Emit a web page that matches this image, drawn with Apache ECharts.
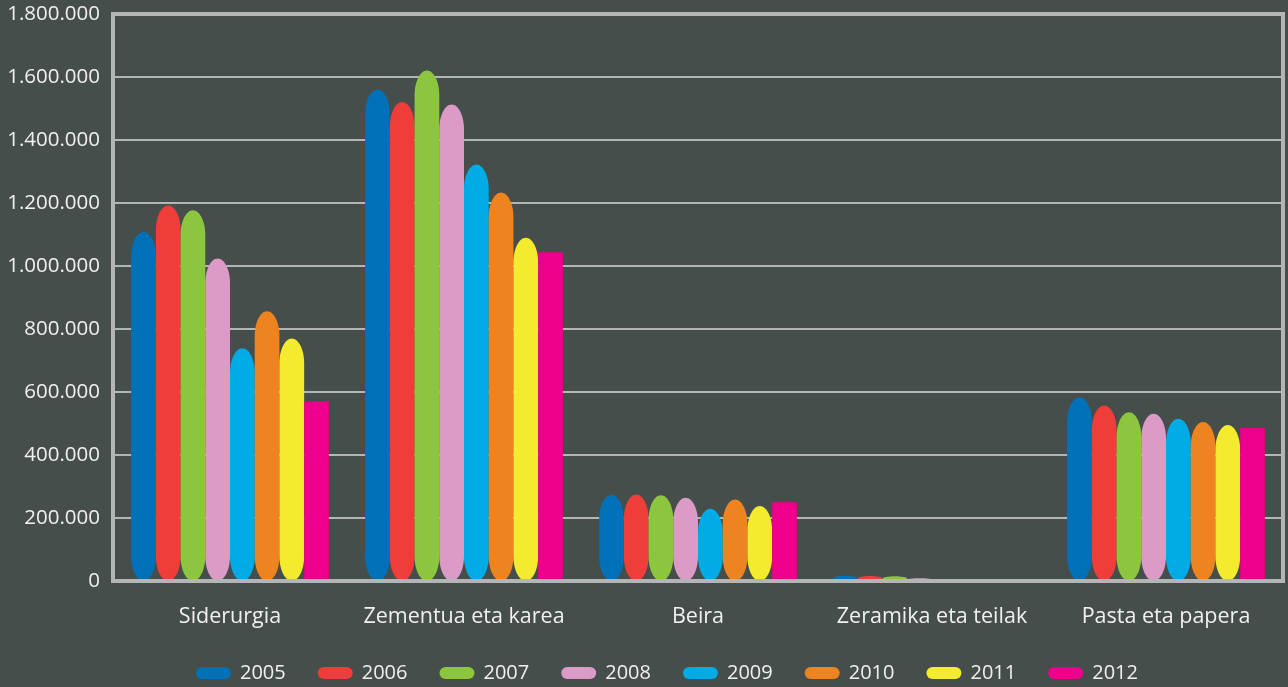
<!DOCTYPE html>
<html>
<head>
<meta charset="utf-8">
<script src="https://cdn.jsdelivr.net/npm/echarts@6/dist/echarts.min.js"></script>
<style>
html,body{margin:0;padding:0;background:#464e4b;}
#chart{width:1288px;height:687px;}
</style>
</head>
<body>
<div id="chart"></div>
<script>
const categories = ['Siderurgia', 'Zementua eta karea', 'Beira', 'Zeramika eta teilak', 'Pasta eta papera'];
const years = ['2005', '2006', '2007', '2008', '2009', '2010', '2011', '2012'];
const v2005 = [1108000, 1560000, 274000, 17000, 583000];
const v2006 = [1192000, 1521000, 275000, 16000, 557000];
const v2007 = [1177000, 1621000, 272000, 15000, 536000];
const v2008 = [1024000, 1513000, 264000, 9000, 531000];
const v2009 = [739000, 1322000, 229000, 5000, 515000];
const v2010 = [856000, 1233000, 259000, 5000, 505000];
const v2011 = [770000, 1090000, 238000, 3000, 495000];
const v2012 = [570000, 1044000, 250000, 3000, 486000];
const yTicks = [0, 200000, 400000, 600000, 800000, 1000000, 1200000, 1400000, 1600000, 1800000];

const seriesValues = [v2005, v2006, v2007, v2008, v2009, v2010, v2011, v2012];
const colors = ['#0071b9', '#ef3e39', '#8cc63e', '#db9bc6', '#00abe6', '#ee841f', '#f4eb2e', '#ec008c'];

const FONT = '"Open Sans", "Noto Sans", sans-serif';
const GROUP_RATIO = 0.845;
const K = 0.5523;

function fmt(v) {
  return String(v).replace(/\B(?=(\d{3})+(?!\d))/g, '.');
}

function makeRender(sIdx, rounded) {
  return function (params, api) {
    const cat = api.value(0);
    const val = api.value(1);
    const top = api.coord([cat, val]);
    const base = api.coord([cat, 0]);
    const band = api.size([1, 0])[0];
    const groupW = band * GROUP_RATIO;
    const w = groupW / years.length;
    const x0 = top[0] - groupW / 2 + sIdx * w;
    const x1 = x0 + w;
    const yt = top[1];
    const yb = base[1];
    const h = yb - yt;
    const color = api.visual('color');
    if (!rounded) {
      return {
        type: 'rect',
        shape: { x: x0, y: yt, width: w, height: h },
        style: { fill: color }
      };
    }
    const rx = w / 2;
    const c = Math.min(w * 1.0, h / 2);
    const cx = x0 + rx;
    const d = [
      'M', x0, yt + c,
      'C', x0, yt + c - K * c, cx - K * rx, yt, cx, yt,
      'C', cx + K * rx, yt, x1, yt + c - K * c, x1, yt + c,
      'L', x1, yb - c,
      'C', x1, yb - c + K * c, cx + K * rx, yb, cx, yb,
      'C', cx - K * rx, yb, x0, yb - c + K * c, x0, yb - c,
      'Z'
    ].join(' ');
    return {
      type: 'path',
      shape: { pathData: d },
      style: { fill: color }
    };
  };
}

const series = years.map((y, i) => ({
  name: y,
  type: 'custom',
  renderItem: makeRender(i, i !== years.length - 1),
  itemStyle: { color: colors[i] },
  encode: { x: 0, y: 1 },
  data: seriesValues[i].map((v, j) => [j, v])
}));

const chart = echarts.init(document.getElementById('chart'), null, { renderer: 'canvas' });
chart.setOption({
  backgroundColor: '#464e4b',
  animation: false,
  textStyle: { fontFamily: FONT },
  grid: {
    left: 113, right: 5, top: 14, bottom: 106,
    show: true, borderColor: '#b3b5b7', borderWidth: 4, z: 10,
    backgroundColor: 'transparent'
  },
  legend: {
    data: years,
    left: 191, top: 656,
    itemWidth: 35, itemHeight: 12, itemGap: 32,
    icon: 'path://M6,0L29,0A6,6,0,0,1,29,12L6,12A6,6,0,0,1,6,0Z',
    textStyle: { color: '#f0f0f0', fontSize: 20, fontFamily: FONT, padding: [0, 0, 0, 4], lineHeight: 24 }
  },
  xAxis: {
    type: 'category',
    data: categories,
    axisLine: { show: false },
    axisTick: { show: false },
    splitLine: { show: false },
    axisLabel: { color: '#f0f0f0', fontSize: 21.5, fontFamily: FONT, margin: 25, interval: 0 }
  },
  yAxis: {
    type: 'value',
    min: yTicks[0],
    max: yTicks[yTicks.length - 1],
    interval: yTicks[1] - yTicks[0],
    axisLine: { show: false },
    axisTick: { show: false },
    splitLine: { show: true, lineStyle: { color: '#b3b5b7', width: 2 } },
    axisLabel: { color: '#f0f0f0', fontSize: 20.5, fontFamily: FONT, margin: 13, padding: [6, 0, 0, 0], formatter: fmt }
  },
  series: series
});
</script>
</body>
</html>
